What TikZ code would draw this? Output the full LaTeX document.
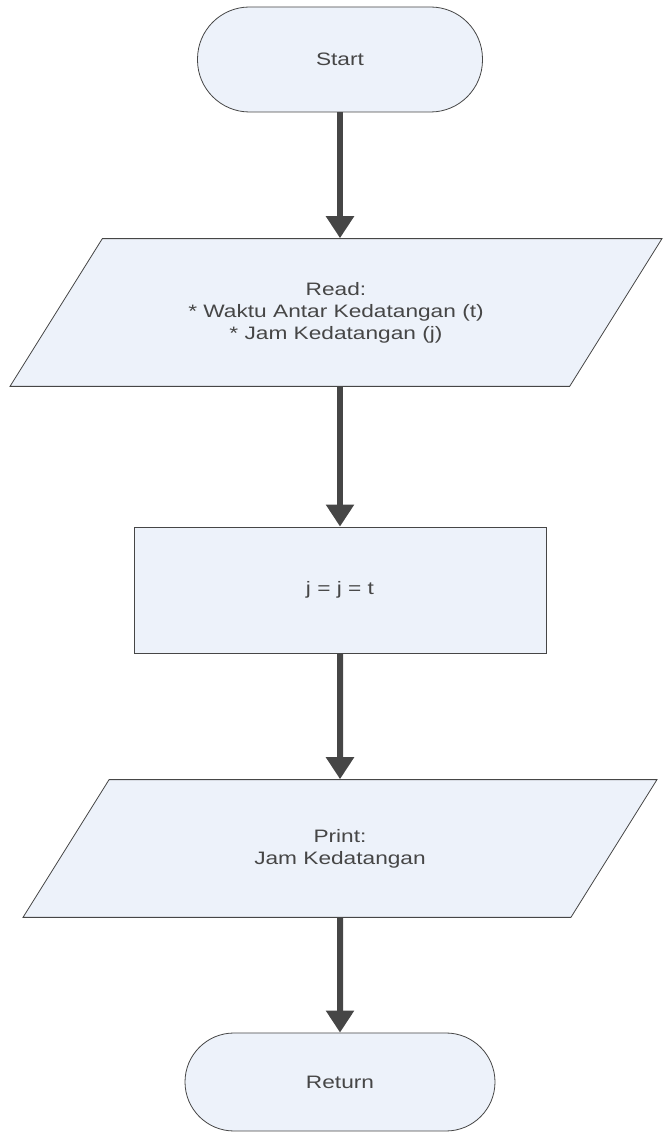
\documentclass[tikz,border=0pt]{standalone}
\usepackage{fontspec}
\setmainfont{Liberation Sans}[FakeStretch=1.26]
\usepackage{xcolor}
\usepackage{tikz}
\usetikzlibrary{shapes.geometric,arrows.meta}
\definecolor{boxfill}{RGB}{237,242,250}
\definecolor{linegray}{RGB}{70,70,70}

\begin{document}
\begin{tikzpicture}[x=1pt,y=1pt]
        \tikzstyle{every node}+=[inner sep=0pt, align=center, text=linegray, font=\fontsize{18}{22}\selectfont]
        \tikzstyle{term}=[draw=linegray, fill=boxfill, line width=0.8pt]
        \tikzstyle{proc}=[draw=linegray, fill=boxfill, line width=0.8pt]
        \tikzstyle{io}=[trapezium, trapezium left angle=58, trapezium right angle=122, trapezium stretches body, draw=linegray, fill=boxfill, line width=0.8pt]
        \tikzstyle{flow}=[draw=linegray, line width=6pt, -{Triangle[length=22pt,width=27pt]}]
        \useasboundingbox (0,0) rectangle (662,1133);
        \node [term, rounded corners=52pt, minimum width=285pt, minimum height=105pt] (start) at (340,1073.5) {Start};
        \node [io, inner ysep=43.5pt, minimum width=652pt] (read) at (336,820.5) {Read:\\* Waktu Antar Kedatangan (t)\\* Jam Kedatangan (j)};
        \node [proc, minimum width=412pt, minimum height=126pt] (calc) at (340,543) {j = j = t};
        \node [io, inner ysep=49.5pt, minimum width=634pt] (print) at (340,284.5) {Print:\\Jam Kedatangan};
        \node [term, rounded corners=49pt, minimum width=310pt, minimum height=98pt] (return) at (340,51) {Return};
        \draw [flow] (start.south) -- (start.south |- read.north);
        \draw [flow] (start.south |- read.south) -- (calc.north);
        \draw [flow] (calc.south) -- (print.north);
        \draw [flow] (print.south) -- (return.north);
    \end{tikzpicture}
\end{document}
